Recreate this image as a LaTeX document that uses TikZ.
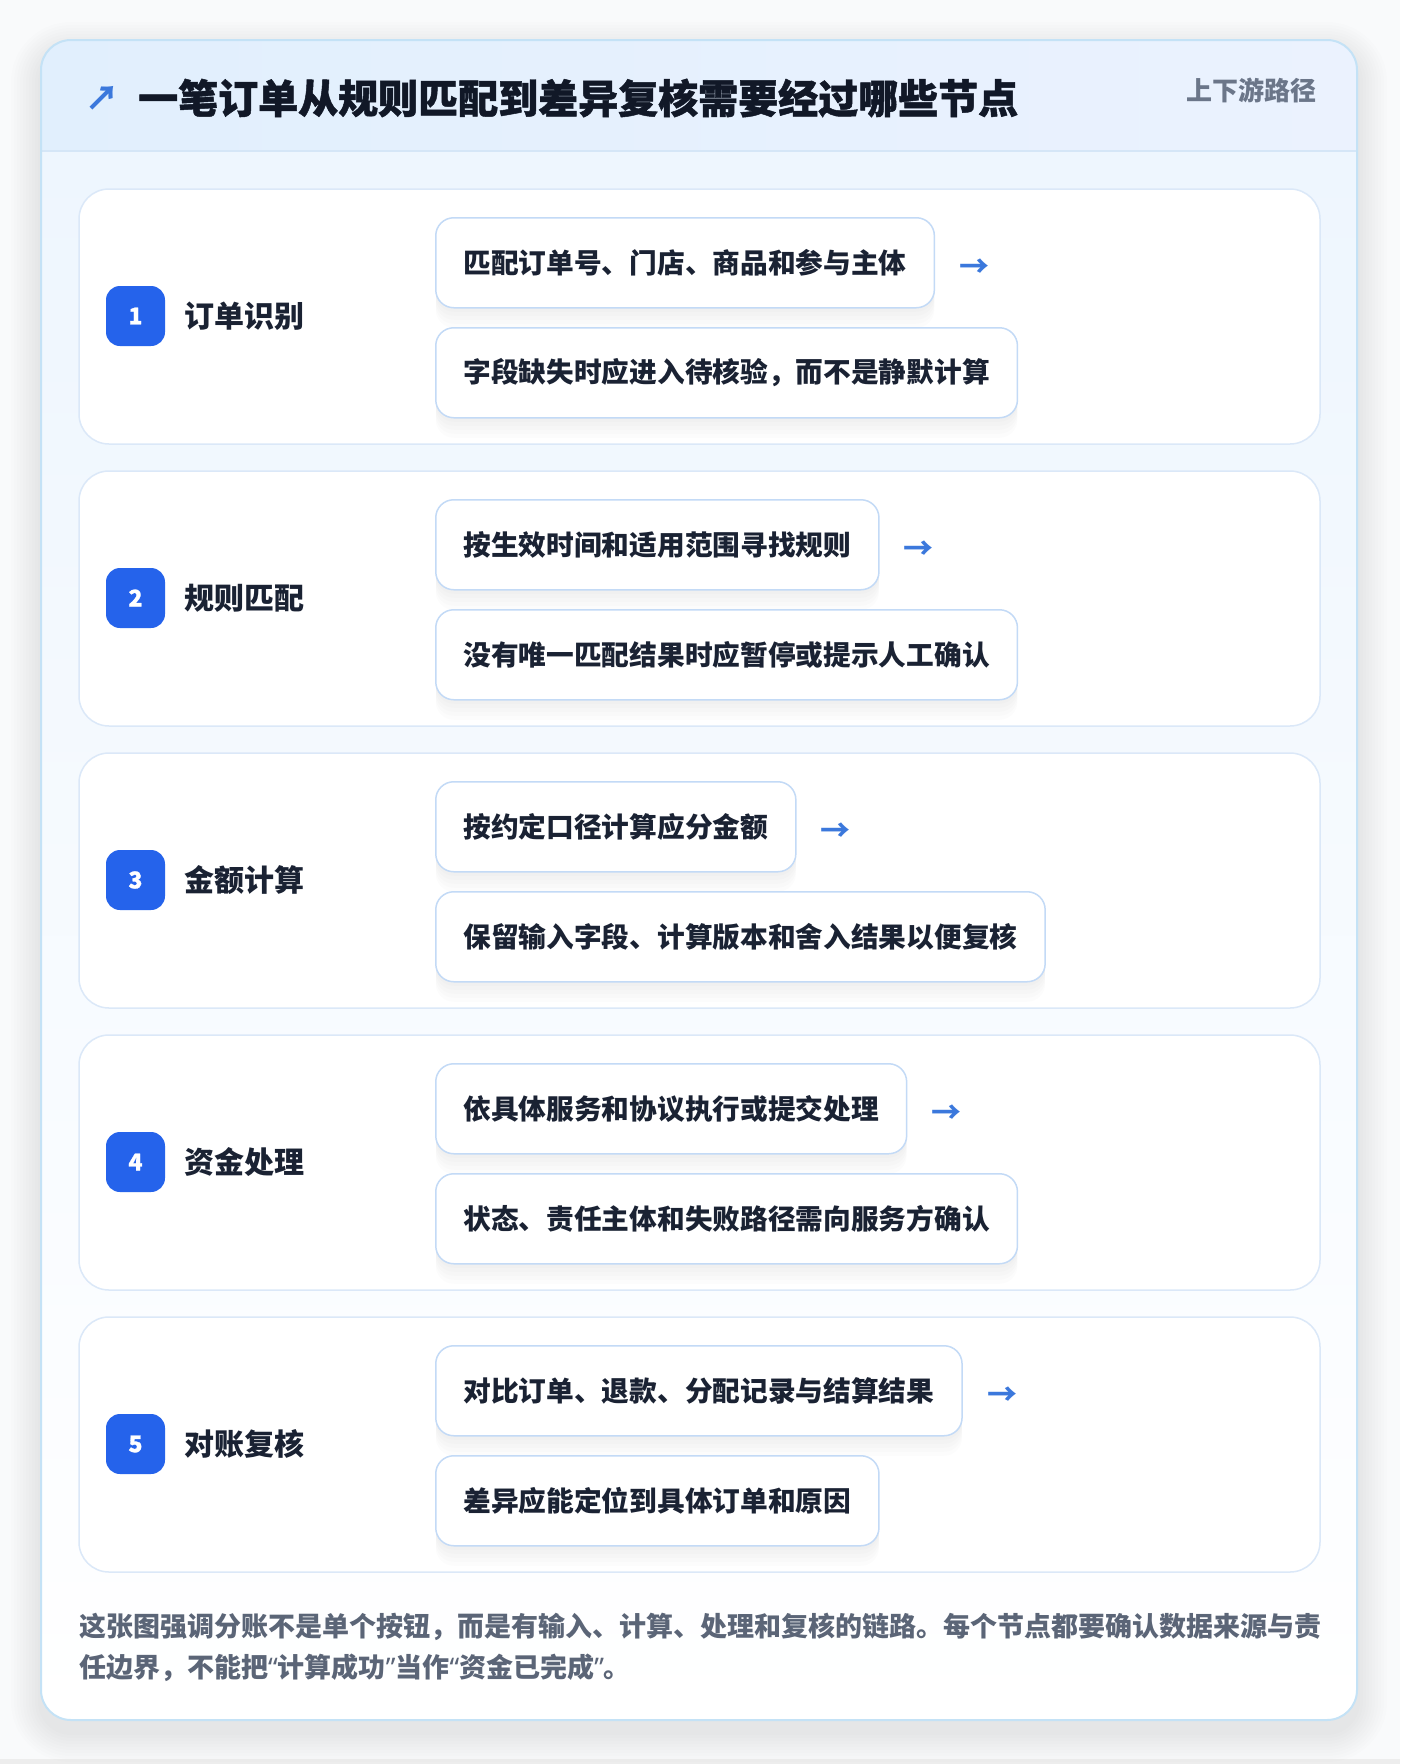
\documentclass[tikz,border=0pt]{standalone}
\usepackage{fontspec}
\setmainfont{Noto Sans CJK SC}
\newfontfamily\heavyfont{Noto Sans CJK SC}[BoldFeatures={FakeBold=1.2}]
\newfontfamily\quotefont{Noto Sans}
\newcommand\qopen{{\quotefont\bfseries “}}
\newcommand\qclose{{\quotefont\bfseries ”}}
\usetikzlibrary{positioning}

\definecolor{pagebg}{HTML}{F9FAFB}
\definecolor{frameline}{HTML}{C4E2F6}
\definecolor{bgtop}{HTML}{EEF6FE}
\definecolor{headleft}{HTML}{E1EFFD}
\definecolor{headright}{HTML}{EBF2FE}
\definecolor{headline}{HTML}{D5E6F7}
\definecolor{cardline}{HTML}{DBE8F8}
\definecolor{boxline}{HTML}{C3DAF6}
\definecolor{badgeblue}{HTML}{2563EB}
\definecolor{arrowblue}{HTML}{3B78DC}
\definecolor{titleink}{HTML}{111827}
\definecolor{ink}{HTML}{1A2233}
\definecolor{tag}{HTML}{6B7689}
\definecolor{note}{HTML}{5B6577}

\tikzset{
  card/.style = {draw=cardline, line width=1.5pt, fill=white, rounded corners=30pt},
  badge/.style = {fill=badgeblue, rounded corners=14pt, minimum width=59pt, minimum height=60pt,
                  inner sep=0pt, text=white, font=\fontsize{23}{23}\selectfont\heavyfont\bfseries},
  steplabel/.style = {anchor=west, inner sep=0pt, text=ink, font=\fontsize{30}{30}\selectfont\bfseries},
  softshadow/.style = {fill=black, draw=none, opacity=0.012, transform canvas={yshift=-#1}},
  notebox/.style = {anchor=north west, draw=boxline, line width=1.5pt, fill=white, rounded corners=18pt,
                    minimum height=90pt, inner xsep=27.7pt, inner ysep=0pt, text=ink,
                    font=\fontsize{27.7}{27.7}\selectfont\bfseries,
                    preaction={softshadow=20pt}, preaction={softshadow=16pt}, preaction={softshadow=12pt},
                    preaction={softshadow=8pt}, preaction={softshadow=4pt}},
  flow/.style = {inner sep=0pt, text=arrowblue, font=\fontsize{30}{30}\selectfont\bfseries},
}

\begin{document}
\begin{tikzpicture}[x=1pt, y=-1pt]
  \useasboundingbox (0,0) rectangle (1400,1764);
  \fill[pagebg] (0,0) rectangle (1400,1764);
  \fill[black!7] (0,1759) rectangle (1400,1764);

  % outer frame with its soft shadow
  \foreach \s in {3,6,...,30}
    \fill[black, opacity=0.006, rounded corners=30pt+\s pt] (41-\s,40-\s+12) rectangle (1357+\s,1720+\s+12);
  \fill[white, rounded corners=30pt] (41,40) rectangle (1357,1720);
  \begin{scope}
    \clip[rounded corners=30pt] (41,40) rectangle (1357,1720);
    \shade[top color=bgtop, bottom color=white] (41,151) rectangle (1357,1720);
    \shade[left color=headleft, right color=headright] (41,40) rectangle (1357,151);
    \draw[headline, line width=1.5pt] (41,151) -- (1357,151);
  \end{scope}
  \draw[frameline, line width=2pt, rounded corners=30pt] (41,40) rectangle (1357,1720);

  % header
  \node[text=arrowblue, font=\fontsize{34}{34}\selectfont\bfseries] (icon) at (102,98) {↗};
  \node[anchor=west, inner sep=0pt, text=titleink, font=\fontsize{40}{40}\selectfont\heavyfont\bfseries] (title) at (138,98)
       {一笔订单从规则匹配到差异复核需要经过哪些节点};
  \node[anchor=east, inner sep=0pt, text=tag, font=\fontsize{26}{26}\selectfont\bfseries] (tag) at (1317,90) {上下游路径};

  % steps
  \foreach \n/\name/\first/\second in {
      1/订单识别/匹配订单号、门店、商品和参与主体/字段缺失时应进入待核验，而不是静默计算,
      2/规则匹配/按生效时间和适用范围寻找规则/没有唯一匹配结果时应暂停或提示人工确认,
      3/金额计算/按约定口径计算应分金额/保留输入字段、计算版本和舍入结果以便复核,
      4/资金处理/依具体服务和协议执行或提交处理/状态、责任主体和失败路径需向服务方确认,
      5/对账复核/对比订单、退款、分配记录与结算结果/差异应能定位到具体订单和原因}{
    \pgfmathsetmacro\top{189+(\n-1)*282}
    \draw[card] (79,\top) rectangle (1320,\top+255);
    \node[badge] (badge\n) at (135.5,\top+127) {\n};
    \node[steplabel] (label\n) at (184,\top+127) {\name};
    \node[notebox] (first\n) at (435,\top+28) {\first};
    \node[notebox] (second\n) at (435,\top+138) {\second};
    \node[flow, right=24pt of first\n, yshift=-5pt] (flow\n) {→};
  }

  % footer note
  \node[anchor=west, inner sep=0pt, align=left, text=note, font=\fontsize{27}{41}\selectfont\bfseries] (note) at (79,1647.5)
       {这张图强调分账不是单个按钮，而是有输入、计算、处理和复核的链路。每个节点都要确认数据来源与责\\任边界，不能把\qopen 计算成功\qclose 当作\qopen 资金已完成\qclose 。};
\end{tikzpicture}
\end{document}
